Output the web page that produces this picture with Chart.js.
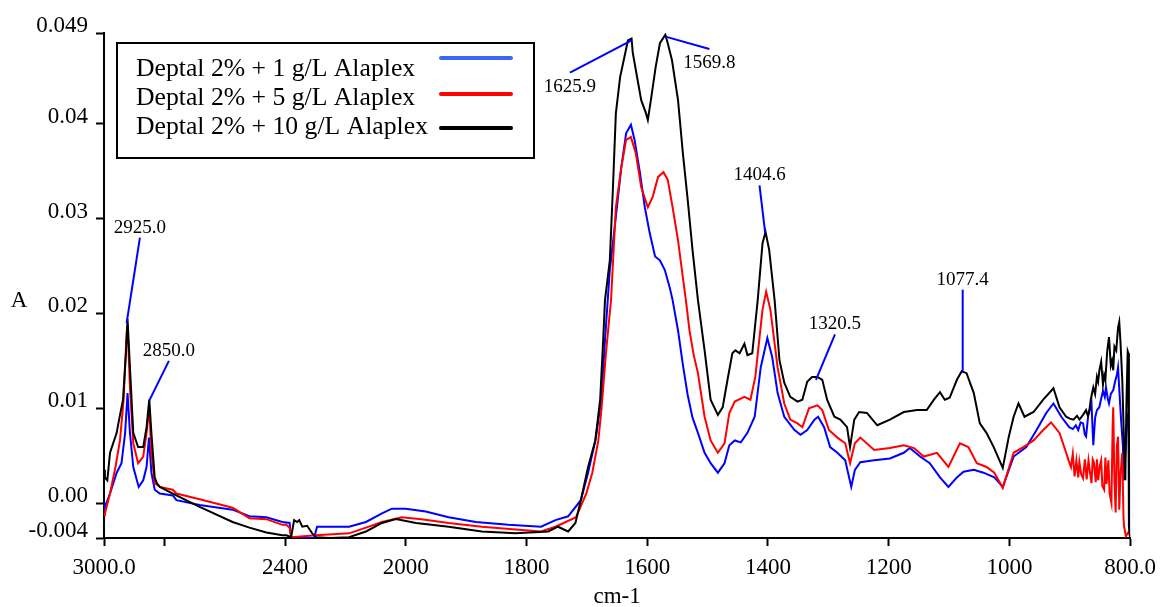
<!DOCTYPE html>
<html>
<head>
<meta charset="utf-8">
<script src="https://cdn.jsdelivr.net/npm/chart.js@4/dist/chart.umd.min.js"></script>
<style>
  html, body { margin: 0; padding: 0; background: #fff; }
  #wrap { width: 1164px; height: 607px; position: relative; }
</style>
</head>
<body>
<div id="wrap"><canvas id="ftir"></canvas></div>
<script>
// IR spectra, absorbance vs wavenumber (cm-1), three Alaplex concentrations
const seriesLabels = [
  'Deptal 2% + 1 g/L Alaplex',
  'Deptal 2% + 5 g/L Alaplex',
  'Deptal 2% + 10 g/L Alaplex',
];

const blueWn = [3000, 2997, 2980, 2958, 2942, 2930, 2922, 2914, 2903, 2885, 2870, 2859, 2851, 2843, 2832, 2815, 2772, 2760, 2683,
  2574, 2518, 2462, 2409, 2385, 2380, 2304, 2294, 2240, 2188, 2132, 2079, 2046, 2000, 1967, 1929, 1884, 1830, 1776, 1752,
  1731, 1710, 1698, 1686, 1676, 1670, 1662, 1652, 1643, 1635, 1627, 1621, 1612, 1604, 1596, 1587, 1579, 1571, 1563, 1558,
  1549, 1541, 1533, 1525, 1516, 1505, 1495, 1483, 1472, 1464, 1455, 1445, 1434, 1422, 1412, 1401, 1393, 1384, 1373, 1356,
  1346, 1335, 1323, 1317, 1307, 1297, 1285, 1272, 1262, 1256, 1247, 1224, 1198, 1175, 1165, 1148, 1132, 1115, 1101, 1087,
  1076, 1059, 1043, 1025, 1011, 993, 972, 955, 939, 927, 914, 901, 895, 890, 886, 882, 878, 875, 873, 869, 866, 864, 862,
  861, 858, 855, 851, 848, 845, 842, 840, 837, 835, 832, 828, 825, 822, 820, 818, 815, 812, 810, 806, 803, 801, 800];
const blueAbs = [0.0, -0.0004, 0.001, 0.0032, 0.0042, 0.0074, 0.0116, 0.0074, 0.0038, 0.0017, 0.0024, 0.0038, 0.0069, 0.0032, 0.0014, 0.001, 0.0008, 0.0003, -0.0002,
  -0.0007, -0.0014, -0.0015, -0.002, -0.0021, -0.0037, -0.0037, -0.0025, -0.0025, -0.0025, -0.002, -0.0011, -0.0006, -0.0006, -0.0009, -0.0015, -0.002, -0.0023, -0.0025, -0.0018,
  -0.0014, 0.0003, 0.0032, 0.0066, 0.0109, 0.0172, 0.0246, 0.0302, 0.0354, 0.039, 0.0399, 0.0383, 0.0348, 0.0312, 0.0285, 0.026, 0.0256, 0.0246, 0.0228, 0.0214,
  0.0182, 0.0146, 0.0114, 0.009, 0.0074, 0.0053, 0.0042, 0.0032, 0.0042, 0.0061, 0.0066, 0.0064, 0.0074, 0.0091, 0.0143, 0.0174, 0.0154, 0.0116, 0.0091, 0.0077,
  0.0072, 0.0077, 0.0088, 0.0091, 0.008, 0.0059, 0.0053, 0.0045, 0.0017, 0.0035, 0.0043, 0.0045, 0.0047, 0.0053, 0.0058, 0.0049, 0.0042, 0.0027, 0.0017, 0.0027,
  0.0033, 0.0035, 0.0032, 0.0027, 0.0017, 0.0049, 0.0059, 0.0077, 0.0095, 0.0105, 0.0091, 0.008, 0.0078, 0.0082, 0.0077, 0.0085, 0.0084, 0.0072, 0.007, 0.0095, 0.01, 0.0105, 0.0075,
  0.0061, 0.009, 0.0098, 0.0101, 0.011, 0.0118, 0.0112, 0.0122, 0.011, 0.0105, 0.0115, 0.0119, 0.0128, 0.0135, 0.0143, 0.012, 0.0088, 0.006, 0.0024, 0.008, 0.0095, 0.002, -0.0035];

const redWn = [3000, 2997, 2980, 2962, 2947, 2935, 2925, 2922, 2914, 2903, 2887, 2870, 2859, 2850, 2843, 2832, 2815, 2772, 2760, 2683,
  2574, 2518, 2462, 2409, 2396, 2385, 2380, 2297, 2188, 2132, 2079, 2013, 1974, 1929, 1874, 1818, 1776, 1752, 1718, 1701,
  1691, 1681, 1676, 1668, 1660, 1652, 1643, 1635, 1627, 1619, 1610, 1599, 1591, 1582, 1573, 1566, 1558, 1549, 1541, 1536,
  1530, 1523, 1516, 1505, 1495, 1483, 1472, 1464, 1455, 1439, 1429, 1421, 1409, 1403, 1396, 1384, 1373, 1363, 1351, 1343,
  1332, 1318, 1310, 1299, 1285, 1272, 1264, 1256, 1247, 1224, 1198, 1175, 1158, 1142, 1120, 1101, 1082, 1068, 1054, 1038,
  1025, 1011, 993, 977, 960, 944, 931, 917, 906, 902, 898, 895, 892, 889, 886, 884, 881, 878, 875, 872, 869, 866, 864, 862,
  860, 857, 855, 853, 850, 848, 846, 843, 841, 839, 836, 834, 831, 829, 828, 826, 824, 822, 820, 818, 816, 813, 811, 810,
  807, 802, 800];
const redAbs = [-0.0013, -0.0011, 0.001, 0.0038, 0.0066, 0.0109, 0.0179, 0.0188, 0.0122, 0.0063, 0.0042, 0.0049, 0.0074, 0.0101, 0.0053, 0.0021, 0.0017, 0.0014, 0.001, 0.0004,
  -0.0005, -0.0016, -0.0017, -0.0023, -0.0023, -0.0026, -0.0036, -0.0034, -0.0032, -0.0026, -0.002, -0.0015, -0.0017, -0.0021, -0.0025, -0.0028, -0.003, -0.0025, -0.0015, 0.001,
  0.0032, 0.0066, 0.0098, 0.0161, 0.0214, 0.0312, 0.0354, 0.0383, 0.0386, 0.0369, 0.0333, 0.0312, 0.0323, 0.0344, 0.0349, 0.0341, 0.0312, 0.0277, 0.0238, 0.0214,
  0.0182, 0.0156, 0.0137, 0.0091, 0.0066, 0.0053, 0.0063, 0.0095, 0.0107, 0.0112, 0.0109, 0.0133, 0.0204, 0.0223, 0.0204, 0.0143, 0.0105, 0.0088, 0.0084, 0.008,
  0.01, 0.0103, 0.0098, 0.0077, 0.0069, 0.0063, 0.0042, 0.0063, 0.0069, 0.0056, 0.0058, 0.0061, 0.0058, 0.0049, 0.0053, 0.0038, 0.0063, 0.0059, 0.0042, 0.0038,
  0.0032, 0.0016, 0.0053, 0.0059, 0.0066, 0.0077, 0.0085, 0.0074, 0.0053, 0.0045, 0.0038, 0.0052, 0.0028, 0.0045, 0.0027, 0.0043, 0.003, 0.0026, 0.0046, 0.0025, 0.0045, 0.003, 0.0021, 0.0046,
  0.0043, 0.0022, 0.0046, 0.0024, 0.004, 0.0045, 0.0018, 0.0014, 0.0048, 0.002, 0.0045, 0.001, 0.0, 0.008, 0.0101, 0.0024, -0.001, 0.006, 0.007, -0.0007, 0.003, 0.0053, -0.0015, -0.0025,
  -0.0035, -0.003, -0.0036];

const blackWn = [3000, 2997, 2989, 2980, 2958, 2950, 2937, 2927, 2922, 2914, 2903, 2887, 2870, 2859, 2850, 2843, 2832, 2825, 2815, 2772, 2683,
  2574, 2518, 2462, 2409, 2396, 2380, 2370, 2360, 2353, 2343, 2327, 2310, 2297, 2250, 2188, 2132, 2079, 2033, 1983, 1929,
  1874, 1818, 1764, 1748, 1731, 1719, 1710, 1698, 1686, 1678, 1673, 1670, 1662, 1657, 1652, 1645, 1639, 1632, 1626, 1624,
  1619, 1610, 1602, 1599, 1594, 1586, 1579, 1570, 1566, 1559, 1549, 1541, 1533, 1525, 1516, 1505, 1495, 1483, 1475, 1467,
  1459, 1454, 1447, 1439, 1434, 1426, 1417, 1409, 1404, 1398, 1389, 1381, 1373, 1363, 1351, 1343, 1335, 1327, 1318, 1310,
  1302, 1290, 1280, 1269, 1264, 1257, 1249, 1236, 1219, 1198, 1175, 1153, 1137, 1125, 1115, 1107, 1099, 1087, 1079, 1071,
  1059, 1049, 1038, 1026, 1011, 1001, 993, 985, 975, 960, 944, 927, 917, 906, 900, 894, 888, 884, 878, 873, 870, 868, 865,
  861, 858, 855, 853, 851, 848, 845, 843, 841, 838, 835, 832, 830, 828, 826, 823, 820, 818, 816, 813, 810, 808, 806, 804,
  803, 802, 800];
const blackAbs = [0.0035, 0.0027, 0.0024, 0.0053, 0.0074, 0.0088, 0.0109, 0.016, 0.0194, 0.0143, 0.0074, 0.0059, 0.0059, 0.008, 0.0109, 0.0074, 0.0027, 0.0021, 0.0017, 0.001, -0.0004,
  -0.002, -0.0026, -0.0031, -0.0034, -0.0034, -0.0036, -0.0018, -0.002, -0.0018, -0.0025, -0.0024, -0.0032, -0.0036, -0.0037, -0.0036, -0.003, -0.0021, -0.0017, -0.0021, -0.0025,
  -0.003, -0.0032, -0.003, -0.0025, -0.003, -0.0021, 0.0003, 0.0038, 0.0066, 0.0109, 0.0172, 0.0214, 0.0256, 0.033, 0.0411, 0.0449, 0.0467, 0.0488, 0.049, 0.0475,
  0.0457, 0.0425, 0.0411, 0.0404, 0.0425, 0.046, 0.0485, 0.0494, 0.0485, 0.0467, 0.0425, 0.0369, 0.032, 0.0267, 0.0214, 0.0161, 0.0109, 0.0093, 0.0101, 0.013,
  0.0158, 0.0161, 0.0158, 0.0168, 0.0156, 0.0158, 0.0214, 0.0274, 0.0286, 0.0267, 0.0214, 0.0151, 0.0127, 0.0112, 0.0107, 0.0109, 0.0128, 0.0133, 0.0133, 0.013,
  0.0109, 0.0091, 0.0088, 0.008, 0.0059, 0.0088, 0.0096, 0.0095, 0.0082, 0.0088, 0.0096, 0.0098, 0.0098, 0.0109, 0.0117, 0.0109, 0.0111, 0.013, 0.0139, 0.0137,
  0.0116, 0.0084, 0.0074, 0.0059, 0.0037, 0.007, 0.0091, 0.0105, 0.0091, 0.0096, 0.0109, 0.0121, 0.0101, 0.0091, 0.0089, 0.0088, 0.0092, 0.0088, 0.0093, 0.0098, 0.0092, 0.0095, 0.011,
  0.0122, 0.0115, 0.0133, 0.0128, 0.014, 0.0149, 0.0125, 0.0135, 0.013, 0.016, 0.0175, 0.0145, 0.015, 0.014, 0.0165, 0.0161, 0.0185, 0.0191, 0.017, 0.013, 0.006, 0.0024, 0.011, 0.016,
  0.0158, -0.0025, -0.0036];

// axis ticks (cm-1) and absorbance tick values
const xTickWn = [3000, 2800, 2400, 2000, 1800, 1600, 1400, 1200, 1000, 800];
const xTickText = ['3000.0', '', '2400', '2000', '1800', '1600', '1400', '1200', '1000', '800.0'];
const yMin = -0.00369, yMax = 0.04958;
const yTickVal = [yMin, 0, 0.01, 0.02, 0.03, 0.04, yMax];
const yTickText = ['-0.004', '0.00', '0.01', '0.02', '0.03', '0.04', '0.049'];

// peak labels: tip absorbance, label anchor (cm-1, A), label above/below anchor
const peakLabels = ['2925.0', '2850.0', '1625.9', '1569.8', '1404.6', '1320.5', '1077.4'];
const peakTipAbs = [0.019, 0.0108, 0.0488, 0.0492, 0.0285, 0.013, 0.0138];
const peakTagWn = [2881, 2785, 1728, 1497, 1414, 1289, 1077.4];
const peakTagAbs = [0.028, 0.015, 0.0454, 0.0479, 0.0335, 0.0178, 0.0225];
const peakTagSide = ['above', 'above', 'below', 'below', 'above', 'above', 'above'];

// the region above 2000 cm-1 is drawn at half scale
function axisPos(wn) {
  return wn > 2000 ? 2000 + (wn - 2000) / 2 : wn;
}

function toPoints(wn, abs) {
  return wn.map((w, i) => ({ x: axisPos(w), y: abs[i] }));
}

const serif = 'Liberation Serif, Times New Roman, serif';

const legendBox = {
  id: 'legendBox',
  afterDraw(chart) {
    const ctx = chart.ctx;
    const colors = ['#3a66f2', '#ff0000', '#000000'];
    ctx.save();
    ctx.strokeStyle = '#000';
    ctx.lineWidth = 2;
    ctx.strokeRect(117, 43, 417, 115);
    ctx.font = '25.7px ' + serif;
    ctx.fillStyle = '#000';
    ctx.textBaseline = 'alphabetic';
    const base = [76, 105, 134];
    const lineY = [58, 94, 128];
    seriesLabels.forEach((t, i) => {
      ctx.fillText(t, 136, base[i]);
      ctx.strokeStyle = colors[i];
      ctx.lineWidth = 4;
      ctx.lineCap = 'round';
      ctx.beginPath();
      ctx.moveTo(441, lineY[i]);
      ctx.lineTo(511, lineY[i]);
      ctx.stroke();
    });
    ctx.restore();
  },
};

const peakTags = {
  id: 'peakTags',
  afterDatasetsDraw(chart) {
    const ctx = chart.ctx;
    const xs = chart.scales.x, ys = chart.scales.y;
    ctx.save();
    ctx.font = '19px ' + serif;
    ctx.fillStyle = '#000';
    ctx.textAlign = 'center';
    ctx.textBaseline = 'alphabetic';
    peakLabels.forEach((lab, i) => {
      const tipX = xs.getPixelForValue(axisPos(parseFloat(lab)));
      const tipY = ys.getPixelForValue(peakTipAbs[i]);
      const tagX = xs.getPixelForValue(axisPos(peakTagWn[i]));
      const tagY = ys.getPixelForValue(peakTagAbs[i]);
      ctx.strokeStyle = '#0000ff';
      ctx.lineWidth = 2;
      ctx.beginPath();
      ctx.moveTo(tagX, tagY);
      ctx.lineTo(tipX, tipY);
      ctx.stroke();
      const textY = peakTagSide[i] === 'above' ? tagY - 5 : tagY + 19;
      ctx.fillText(lab, tagX, textY);
    });
    ctx.restore();
  },
};

const axisTitles = {
  id: 'axisTitles',
  afterDraw(chart) {
    const ctx = chart.ctx;
    const area = chart.chartArea;
    ctx.save();
    ctx.font = '23px ' + serif;
    ctx.fillStyle = '#000';
    ctx.textAlign = 'center';
    ctx.textBaseline = 'alphabetic';
    ctx.fillText('A', 19, 307);
    ctx.fillText('cm-1', (area.left + area.right) / 2, 603);
    ctx.restore();
  },
};

const lineStyle = { borderWidth: 2, pointRadius: 0, fill: false, tension: 0 };

new Chart(document.getElementById('ftir'), {
  type: 'line',
  data: {
    datasets: [
      { label: seriesLabels[0], data: toPoints(blueWn, blueAbs), borderColor: '#0000ff', order: 2, ...lineStyle },
      { label: seriesLabels[1], data: toPoints(redWn, redAbs), borderColor: '#ff0000', order: 1, ...lineStyle },
      { label: seriesLabels[2], data: toPoints(blackWn, blackAbs), borderColor: '#000000', order: 0, ...lineStyle },
    ],
  },
  options: {
    responsive: true,
    maintainAspectRatio: false,
    animation: false,
    layout: { padding: { top: 33, right: 30, left: 0, bottom: 0 } },
    plugins: { legend: { display: false }, tooltip: { enabled: false } },
    scales: {
      x: {
        type: 'linear',
        reverse: true,
        min: axisPos(800),
        max: axisPos(3000),
        border: { display: true, color: '#000', width: 2 },
        grid: { drawOnChartArea: false, drawTicks: true, tickLength: 8, tickWidth: 2, tickColor: '#000' },
        afterBuildTicks: (scale) => { scale.ticks = xTickWn.map(w => ({ value: axisPos(w) })); },
        afterFit: (scale) => { scale.height = 69; },
        ticks: {
          autoSkip: false,
          maxRotation: 0,
          padding: 8,
          color: '#000',
          font: { family: serif, size: 23 },
          callback: (v, i) => xTickText[i],
        },
      },
      y: {
        min: yMin,
        max: yMax,
        border: { display: true, color: '#000', width: 2 },
        grid: { drawOnChartArea: false, drawTicks: true, tickLength: 8, tickWidth: 2, tickColor: '#000' },
        afterBuildTicks: (scale) => { scale.ticks = yTickVal.map(v => ({ value: v })); },
        afterFit: (scale) => { scale.width = 104; },
        ticks: {
          autoSkip: false,
          padding: 8,
          labelOffset: -7,
          color: '#000',
          font: { family: serif, size: 23 },
          callback: (v, i) => yTickText[i],
        },
      },
    },
  },
  plugins: [legendBox, peakTags, axisTitles],
});
</script>
</body>
</html>
